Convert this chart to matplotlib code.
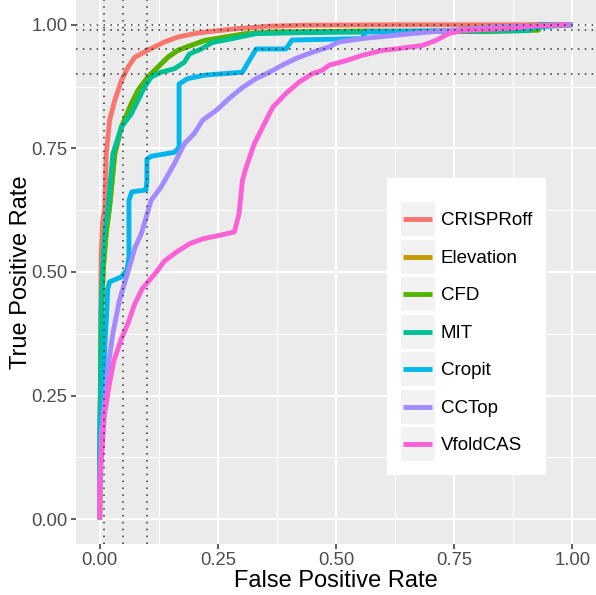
import matplotlib
matplotlib.use('Agg')
import matplotlib.pyplot as plt
from matplotlib.legend_handler import HandlerLine2D
from matplotlib.patches import Rectangle
from matplotlib.ticker import MultipleLocator

plt.rcParams['font.family'] = ['Liberation Sans', 'DejaVu Sans']

models = ['CRISPRoff', 'Elevation', 'CFD', 'MIT', 'Cropit', 'CCTop', 'VfoldCAS']
colors = ['#F8766D', '#C49A00', '#53B400', '#00C094', '#00B6EB', '#A58AFF', '#FB61D7']

# ROC points
fpr_crisproff = [0, 0.001, 0.002, 0.003, 0.006, 0.011, 0.014, 0.021, 0.032, 0.046, 0.060, 0.074,
                 0.095, 0.116, 0.137, 0.165, 0.200, 0.222, 0.289, 0.359, 0.430, 0.660, 1.0]
tpr_crisproff = [0, 0.15, 0.35, 0.53, 0.60, 0.631, 0.739, 0.807, 0.847, 0.887, 0.914, 0.934,
                 0.945, 0.955, 0.965, 0.975, 0.982, 0.985, 0.992, 0.997, 0.999, 1.0, 1.0]

fpr_elevation = [0, 0.001, 0.004, 0.008, 0.014, 0.021, 0.032, 0.046, 0.067, 0.081, 0.102, 0.123,
                 0.144, 0.165, 0.193, 0.222, 0.259, 0.310, 0.359, 0.563, 0.820, 0.900, 0.910, 1.0]
tpr_elevation = [0, 0.2, 0.416, 0.51, 0.58, 0.631, 0.739, 0.793, 0.840, 0.867, 0.894, 0.914,
                 0.934, 0.948, 0.958, 0.968, 0.974, 0.982, 0.985, 0.987, 0.987, 0.990, 1.0, 1.0]

fpr_cfd = [0, 0.001, 0.004, 0.008, 0.014, 0.021, 0.032, 0.046, 0.067, 0.081, 0.102, 0.123,
           0.144, 0.165, 0.193, 0.222, 0.259, 0.310, 0.359, 0.563, 0.820, 0.928, 0.935, 1.0]
tpr_cfd = [0, 0.2, 0.416, 0.51, 0.58, 0.631, 0.739, 0.793, 0.840, 0.867, 0.894, 0.914,
           0.934, 0.948, 0.958, 0.968, 0.974, 0.982, 0.985, 0.987, 0.986, 0.989, 1.0, 1.0]

fpr_mit = [0, 0.001, 0.003, 0.006, 0.011, 0.018, 0.028, 0.046, 0.067, 0.081, 0.095, 0.109,
           0.130, 0.158, 0.179, 0.190, 0.215, 0.238, 0.281, 0.331, 0.428, 0.907, 0.930, 1.0]
tpr_mit = [0, 0.2, 0.416, 0.51, 0.58, 0.631, 0.739, 0.793, 0.820, 0.847, 0.874, 0.894,
           0.904, 0.911, 0.924, 0.941, 0.951, 0.964, 0.972, 0.982, 0.984, 0.988, 1.0, 1.0]

fpr_cropit = [0, 0.001, 0.007, 0.011, 0.015, 0.017, 0.021, 0.046, 0.058, 0.062, 0.062, 0.068,
              0.098, 0.100, 0.100, 0.109, 0.158, 0.168, 0.168, 0.186, 0.222, 0.302, 0.331,
              0.394, 0.407, 0.555, 0.563, 0.738, 0.922, 0.970, 1.0]
tpr_cropit = [0, 0.2, 0.25, 0.35, 0.42, 0.465, 0.48, 0.49, 0.505, 0.53, 0.645, 0.662,
              0.666, 0.685, 0.728, 0.734, 0.742, 0.752, 0.88, 0.891, 0.898, 0.904, 0.951,
              0.951, 0.969, 0.972, 0.986, 0.988, 0.995, 0.998, 1.0]

fpr_cctop = [0, 0.0, 0.004, 0.011, 0.018, 0.028, 0.042, 0.063, 0.075, 0.088, 0.109, 0.130,
             0.158, 0.179, 0.200, 0.218, 0.247, 0.274, 0.302, 0.331, 0.359, 0.386, 0.416,
             0.449, 0.485, 0.506, 0.555, 0.660, 0.732, 0.838, 0.977, 1.0]
tpr_cctop = [0, 0.073, 0.174, 0.241, 0.308, 0.376, 0.443, 0.51, 0.55, 0.577, 0.645, 0.672,
             0.719, 0.759, 0.780, 0.807, 0.827, 0.851, 0.873, 0.891, 0.904, 0.918, 0.932,
             0.944, 0.955, 0.965, 0.972, 0.982, 0.988, 0.995, 1.0, 1.0]

fpr_vfoldcas = [0, 0.001, 0.005, 0.010, 0.020, 0.030, 0.046, 0.060, 0.074, 0.090, 0.105, 0.120,
                0.137, 0.162, 0.190, 0.218, 0.253, 0.285, 0.295, 0.302, 0.310, 0.327, 0.345,
                0.366, 0.394, 0.422, 0.450, 0.471, 0.485, 0.527, 0.555, 0.597, 0.626, 0.682,
                0.711, 0.738, 0.766, 0.871, 0.922, 0.992]
tpr_vfoldcas = [0, 0.079, 0.14, 0.21, 0.27, 0.32, 0.365, 0.396, 0.435, 0.466, 0.483, 0.5,
                0.522, 0.540, 0.557, 0.567, 0.574, 0.581, 0.618, 0.685, 0.712, 0.759, 0.793,
                0.833, 0.861, 0.884, 0.901, 0.908, 0.918, 0.929, 0.938, 0.948, 0.951, 0.958,
                0.968, 0.982, 0.988, 0.993, 0.998, 1.0]

fpr_all = [fpr_crisproff, fpr_elevation, fpr_cfd, fpr_mit, fpr_cropit, fpr_cctop, fpr_vfoldcas]
tpr_all = [tpr_crisproff, tpr_elevation, tpr_cfd, tpr_mit, tpr_cropit, tpr_cctop, tpr_vfoldcas]

fpr_cutoffs = [0.01, 0.05, 0.1]
tpr_cutoffs = [0.9, 0.95, 0.99, 1.0]

ticks = [0, 0.25, 0.5, 0.75, 1.0]
tick_labels = ['0.00', '0.25', '0.50', '0.75', '1.00']


class KeyHandler(HandlerLine2D):
    # ggplot-like legend key: grey square behind the line
    def create_artists(self, legend, orig_handle, xdescent, ydescent, width, height, fontsize, trans):
        arts = super().create_artists(legend, orig_handle, xdescent, ydescent, width, height, fontsize, trans)
        bg = Rectangle((-xdescent, -ydescent), width, height, facecolor='#F2F2F2',
                       edgecolor='none', transform=trans)
        ymid = -ydescent + height / 2
        for a in arts:
            a.set_data([-xdescent + width * 0.08, -xdescent + width * 0.92], [ymid, ymid])
        return [bg] + list(arts)


fig = plt.figure(figsize=(5.96, 5.95), dpi=100)
ax = fig.add_axes([76 / 596, 51 / 595, 520 / 596, 544 / 595])
ax.set_facecolor('#EBEBEB')
for s in ax.spines.values():
    s.set_visible(False)

for name, col, x, y in zip(models, colors, fpr_all, tpr_all):
    ax.plot(x, y, color=col, lw=3.5, label=name, solid_capstyle='butt', zorder=3)

for v in fpr_cutoffs:
    ax.axvline(v, color='#333333', lw=1.1, linestyle=(0, (1, 3.5)), zorder=5)
for h in tpr_cutoffs:
    ax.axhline(h, color='#333333', lw=1.1, linestyle=(0, (1, 3.5)), zorder=5)

ax.set_xlim(-0.05, 1.05)
ax.set_ylim(-0.05, 1.05)
ax.set_xticks(ticks)
ax.set_xticklabels(tick_labels)
ax.set_yticks(ticks)
ax.set_yticklabels(tick_labels)
ax.xaxis.set_minor_locator(MultipleLocator(0.125))
ax.yaxis.set_minor_locator(MultipleLocator(0.125))
ax.grid(which='major', color='white', lw=1.5, zorder=0)
ax.grid(which='minor', color='white', lw=0.75, zorder=0)
ax.set_axisbelow(True)
ax.tick_params(which='major', length=3.5, width=1.1, color='#333333',
               labelsize=13.3, labelcolor='#4D4D4D', pad=2.5)
ax.tick_params(which='minor', length=0)

ax.set_xlabel('False Positive Rate', fontsize=17, labelpad=0.5)
ax.set_ylabel('True Positive Rate', fontsize=17, labelpad=-0.5)

leg = ax.legend(loc='upper left', bbox_to_anchor=(311 / 520, 1 - 178 / 544), borderaxespad=0,
                fontsize=13.5, title=' ', title_fontsize=5,
                handlelength=1.81, handleheight=2.41, labelspacing=0.19,
                handletextpad=0.32, borderpad=0.73, fancybox=False, framealpha=1,
                handler_map={plt.Line2D: KeyHandler()})
leg.get_frame().set_facecolor('white')
leg.get_frame().set_edgecolor('none')
leg.set_zorder(6)

fig.savefig('out.png', dpi=100)
